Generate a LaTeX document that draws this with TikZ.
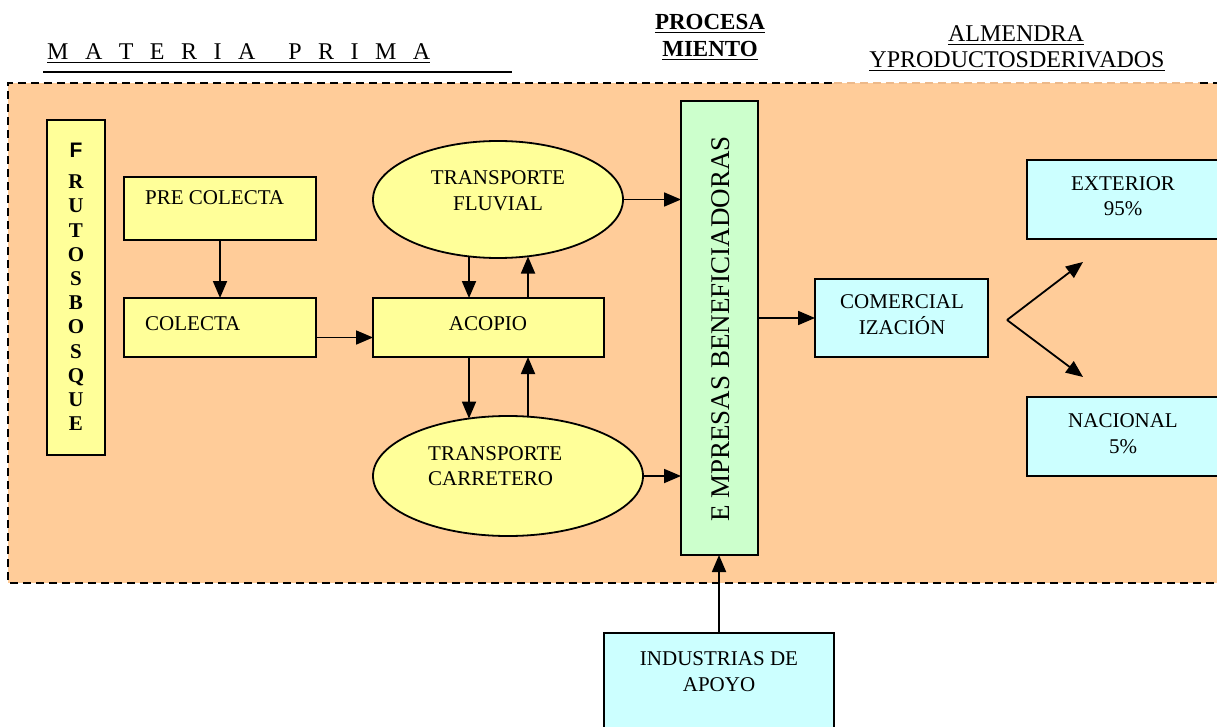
\documentclass[tikz,border=0pt]{standalone}
\usepackage{fontspec}
\setmainfont{Liberation Serif}
\setsansfont{Liberation Sans}
\usetikzlibrary{arrows.meta,shapes.geometric,calc}
\definecolor{bgorange}{HTML}{FFCC99}
\definecolor{byellow}{HTML}{FFFF99}
\definecolor{bgreen}{HTML}{CCFFCC}
\definecolor{bcyan}{HTML}{CCFFFF}
\definecolor{faintdash}{HTML}{EDB98A}
\begin{document}
\begin{tikzpicture}[x=1pt,y=-1pt,
  box/.style={draw=black, line width=1.8pt, inner sep=0pt, outer sep=0pt},
  ybox/.style={box, fill=byellow},
  gbox/.style={box, fill=bgreen},
  cbox/.style={box, fill=bcyan},
  yell/.style={box, ellipse, fill=byellow},
  txt/.style={font=\fontsize{21}{25}\selectfont, inner sep=0pt, anchor=base},
  hd/.style={font=\fontsize{24}{28}\selectfont, inner sep=0pt, anchor=base},
  hdb/.style={font=\bfseries\fontsize{23}{27}\selectfont, inner sep=0pt, anchor=base},
  arr/.style={line width=1.8pt, -{Triangle[length=17pt,width=14pt]}},
  dashline/.style={line width=2pt, dash pattern=on 8pt off 5pt},
  uline/.style={line width=1.3pt}
]
\useasboundingbox (0,0) rectangle (1217,727);
\clip (0,0) rectangle (1217,727);

% background region
\fill[bgorange] (8,83) rectangle (1240,583);
\draw[dashline] (1240,583) -- (8,583) -- (8,83) -- (834,83);
\draw[dashline, faintdash] (834,83) -- (1200,83);
\draw[dashline] (1200,83) -- (1240,83);

% headers
\node[hd, anchor=base west] (mat) at (47,60) {\makebox[383pt][s]{M\hfill A\hfill T\hfill E\hfill R\hfill I\hfill A\hfill\hfill P\hfill R\hfill I\hfill M\hfill A}};
\draw[line width=2.5pt] (43,72) -- (512,72);
\node[hdb] (pr1) at (710,30) {PROCESA};
\node[hdb] (pr2) at (710,57) {MIENTO};
\node[hd] (al1) at (1016,42) {ALMENDRA};
\node[hd] (al2) at (1017,68) {YPRODUCTOSDERIVADOS};
\foreach \n in {mat,pr1,pr2,al1,al2}
  \draw[uline] ([yshift=-2.5pt]\n.base west) -- ([yshift=-2.5pt]\n.base east);

% boxes
\node[ybox, minimum width=58, minimum height=335] (fru) at (76,287.5) {};
\node[ybox, minimum width=192, minimum height=63] (pre) at (220,208.5) {};
\node[ybox, minimum width=192, minimum height=59] (col) at (220,327.5) {};
\node[ybox, minimum width=231, minimum height=59] (aco) at (488.5,327.5) {};
\node[yell, minimum width=250, minimum height=117] (fluv) at (498,199.5) {};
\node[yell, minimum width=270, minimum height=120] (car) at (508,476) {};
\node[gbox, minimum width=77, minimum height=454] (emp) at (719.5,328) {};
\node[cbox, minimum width=173, minimum height=78] (com) at (901.5,318) {};
\node[cbox, minimum width=213, minimum height=79] (ext) at (1133.5,199.5) {};
\node[cbox, minimum width=213, minimum height=79] (nac) at (1133.5,436.5) {};
\node[cbox, minimum width=230, minimum height=127] (ind) at (719,696.5) {};

% connectors
\draw[arr] (pre.south) -- (col.north);
\draw[arr] ([yshift=-10pt]col.east) -- ([yshift=-10pt]aco.west);
\draw[arr] ([xshift=-29pt,yshift=1.5pt]fluv.south) -- ([xshift=-19.5pt]aco.north);
\draw[arr] ([xshift=39.5pt]aco.north) -- ([xshift=30pt,yshift=1.5pt]fluv.south);
\draw[arr] ([xshift=-19.5pt]aco.south) -- ([xshift=-39pt,yshift=-2.6pt]car.north);
\draw[arr] ([xshift=20pt,yshift=-0.7pt]car.north) -- ([xshift=39.5pt]aco.south);
\draw[arr] (fluv.east) -- (fluv.east -| emp.west);
\draw[arr] (car.east) -- (car.east -| emp.west);
\draw[arr] (com.west -| emp.east) -- (com.west);
\draw[arr] (ind.north) -- (ind.north |- emp.south);
\coordinate (br) at (1007,320);
\coordinate (brup) at (1083,262);
\coordinate (brdn) at (1083,377);
\draw[arr] (br) -- (brup);
\draw[arr] (br) -- (brdn);

% texts
\node[font=\bfseries\fontsize{21}{24.2}\selectfont, align=center, anchor=north, inner sep=0pt] (frutxt) at (76,143)
  {{\sffamily F}\\[6.8pt]R\\U\\T\\O\\S\\B\\O\\S\\Q\\U\\E};
\node[txt, anchor=base west] (tpre) at (145,205) {PRE COLECTA};
\node[txt, anchor=base west] (tcol) at (145,330) {COLECTA};
\node[txt] (taco) at (488,330) {ACOPIO};
\node[txt] (tf1) at (498,185) {TRANSPORTE};
\node[txt] (tf2) at (498,211) {FLUVIAL};
\node[txt, anchor=base west] (tc1) at (428,460) {TRANSPORTE};
\node[txt, anchor=base west] (tc2) at (428,485) {CARRETERO};
\node[txt] (tm1) at (902,308) {COMERCIAL};
\node[txt] (tm2) at (902,334) {IZACIÓN};
\node[txt] (te1) at (1123,191) {EXTERIOR};
\node[txt] (te2) at (1123,216) {95\%};
\node[txt] (tn1) at (1123,427) {NACIONAL};
\node[txt] (tn2) at (1123,453) {5\%};
\node[txt] (ti1) at (719,665) {INDUSTRIAS DE};
\node[txt] (ti2) at (719,691) {APOYO};
\node[txt, font=\fontsize{27}{30}\selectfont, rotate=90] (temp) at (729,329) {E MPRESAS BENEFICIADORAS};
\end{tikzpicture}
\end{document}
